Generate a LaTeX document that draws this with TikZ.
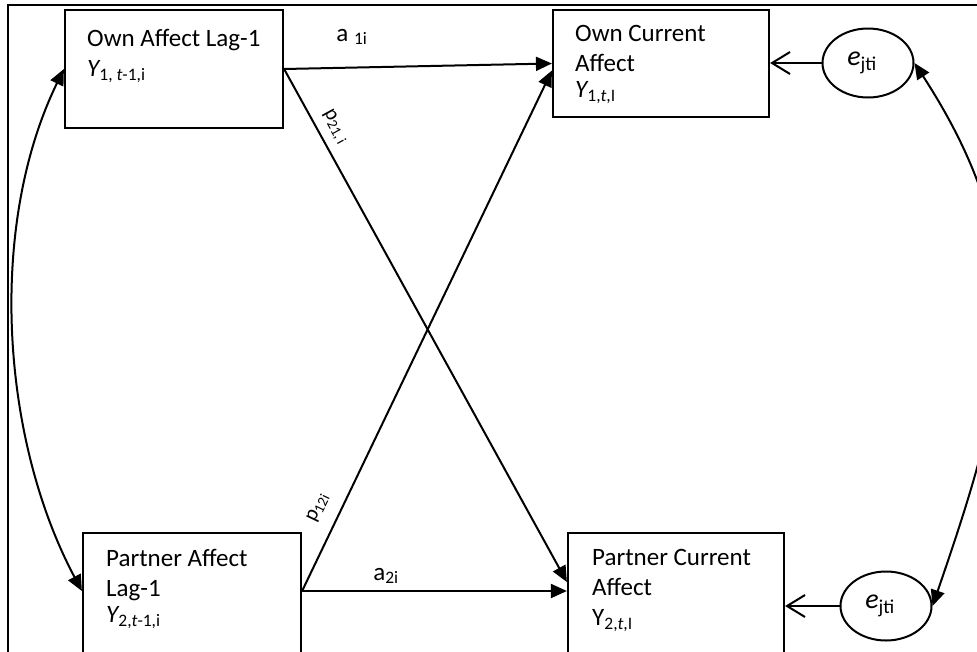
\documentclass[tikz,border=0pt]{standalone}
\usepackage{fontspec}
\setmainfont{Carlito}
\usepackage{tikz}
\usetikzlibrary{arrows.meta}
\usetikzlibrary{shapes.geometric}
\pgfdeclarelayer{edgelayer}
\pgfdeclarelayer{nodelayer}
\pgfsetlayers{edgelayer,nodelayer,main}
\tikzstyle{none}=[inner sep=0pt]
\tikzstyle{box}=[draw, line width=2.2pt, rectangle, inner sep=0pt, fill=white]
\tikzstyle{ell}=[draw, line width=2pt, ellipse, minimum width=91pt, minimum height=69pt, inner sep=0pt, fill=white, font=\fontsize{28}{30}\selectfont]
\tikzstyle{txt}=[inner sep=0pt, anchor=north west, align=left, font=\fontsize{25}{30}\selectfont]
\tikzstyle{lbl}=[inner sep=0pt, font=\fontsize{25}{28}\selectfont]
\tikzstyle{slbl}=[inner sep=0pt, font=\fontsize{21}{24}\selectfont]
\tikzstyle{arr}=[line width=2pt, -{Triangle[length=16pt,width=14pt]}]
\tikzstyle{darr}=[line width=2pt, {Triangle[length=16pt,width=14pt]}-{Triangle[length=16pt,width=14pt]}]
\tikzstyle{oarr}=[line width=2pt, -{Straight Barb[length=18pt,width=22pt]}]

\begin{document}
\begin{tikzpicture}[x=1pt, y=1pt]
	\useasboundingbox (0, 0) rectangle (977, -651);
	\begin{pgfonlayer}{nodelayer}
		\clip (0, 0) rectangle (977, -651);
		\node [style=box, minimum width=218, minimum height=118] (0) at (174, -69) {};
		\node [style=box, minimum width=216, minimum height=107] (1) at (661, -63.5) {};
		\node [style=box, minimum width=218, minimum height=126] (2) at (192, -596) {};
		\node [style=box, minimum width=216, minimum height=126] (3) at (676, -596) {};
		\node [style=txt] (4) at (87, -29) {Own Affect Lag-1\\{\itshape Y}\textsubscript{1, \textit{t}-1,i}};
		\node [style=txt] (5) at (575, -25) {Own Current\\Affect\\[-4pt]{\itshape Y}\textsubscript{1,\textit{t},I}};
		\node [style=txt] (6) at (106, -549) {Partner Affect\\Lag-1\\[-4pt]{\itshape Y}\textsubscript{2,\textit{t}-1,i}};
		\node [style=txt] (7) at (592, -549) {Partner Current\\Affect\\Y\textsubscript{2,\textit{t},I}};
		\node [style=ell] (8) at (868, -63) {\hspace*{-12pt}{\itshape e}\textsubscript{jti}};
		\node [style=ell] (9) at (886, -606) {\hspace*{-12pt}{\itshape e}\textsubscript{jti}};
		\node [style=lbl] (10) at (352, -37) {a \textsubscript{1i}};
		\node [style=slbl, rotate=-61.4] (11) at (335, -127) {p\textsubscript{21,\,i}};
		\node [style=slbl, rotate=64.2] (12) at (318, -508) {p\textsubscript{12i}};
		\node [style=lbl] (13) at (386, -576) {a\textsubscript{2i}};
	\end{pgfonlayer}
	\begin{pgfonlayer}{edgelayer}
		\clip (0, 0) rectangle (977, -651);
		\draw [line width=2.2pt] (8, -700) -- (8, -5) -- (1000, -5);
		\draw [style=arr] (0.east) to (1.west);
		\draw [style=arr] (0.east) to ([yshift=14pt]3.west);
		\draw [style=arr] ([yshift=5pt]2.east) to ([yshift=-7pt]1.west);
		\draw [style=arr] ([yshift=5pt]2.east) to ([yshift=5pt]3.west);
		\draw [style=oarr] (8.west) to (8.west -| 1.east);
		\draw [style=oarr] (9.west) to (9.west -| 3.east);
		\draw [style=darr] (0.west) to [out=244, in=118, looseness=0.85] ([yshift=5pt]2.west);
		\draw [style=darr] (8.east) to [out=-57, in=71, looseness=1.1] (9.east);
	\end{pgfonlayer}
\end{tikzpicture}
\end{document}
